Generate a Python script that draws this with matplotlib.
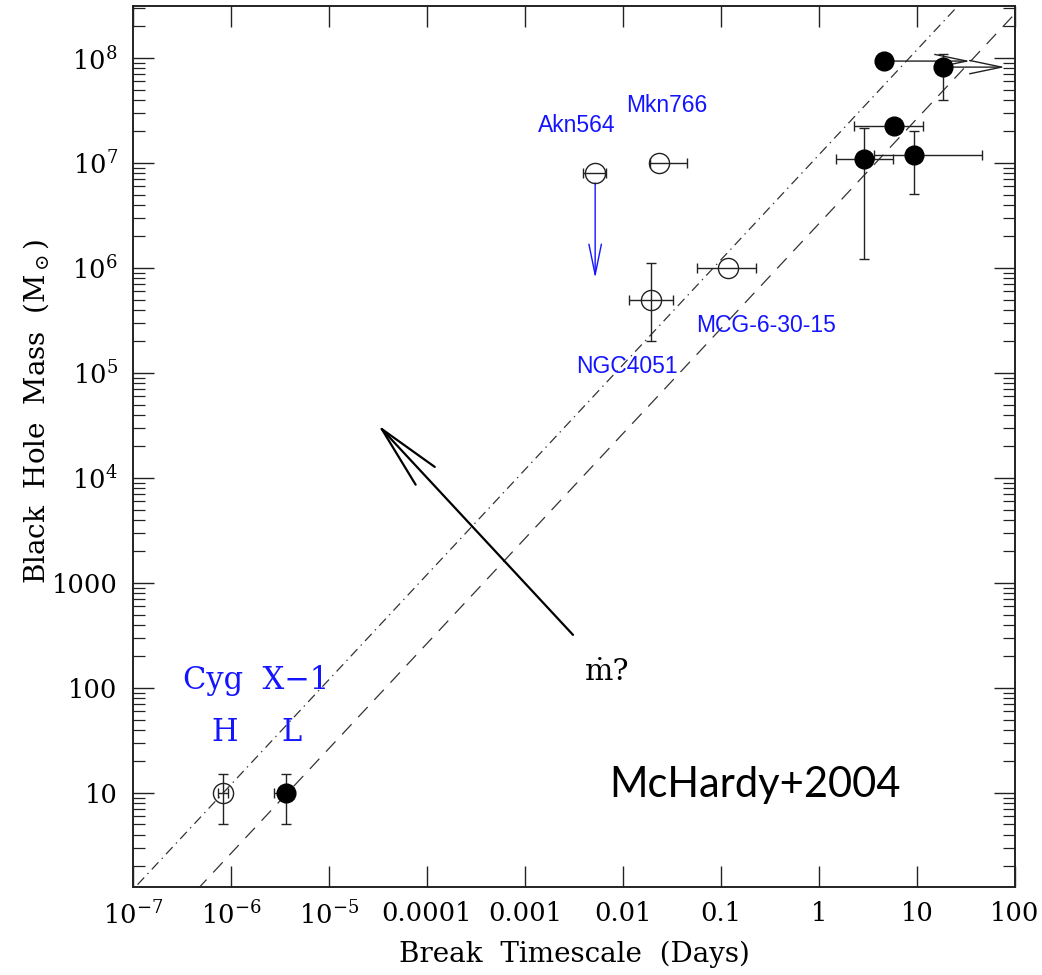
import matplotlib
matplotlib.use("Agg")
import matplotlib.pyplot as plt
import numpy as np

plt.rcParams.update({
    "font.family": "DejaVu Serif",
    "mathtext.fontset": "dejavuserif",
    "lines.scale_dashes": False,
})

nan = np.nan

# open symbols: Cyg X-1 (high state) and the narrow-line Seyferts
open_x = [8.3e-7, 5.2e-3, 0.0233, 0.0193, 0.118]
open_y = [10, 8.0e6, 1.0e7, 5.0e5, 1.0e6]
open_xlo = [7.4e-7, 3.9e-3, 0.0189, 0.0115, 0.057]
open_xhi = [9.3e-7, 6.7e-3, 0.045, 0.0324, 0.227]
open_ylo = [5, nan, nan, 2.0e5, nan]
open_yhi = [15, nan, nan, 1.12e6, nan]

# filled symbols: Cyg X-1 (low state) and the broad-line AGN
fill_x = [3.64e-6, 4.6, 18.4, 5.82, 2.88, 9.3]
fill_y = [10, 9.36e7, 8.2e7, 2.25e7, 1.09e7, 1.19e7]
fill_xlo = [2.75e-6, nan, nan, 2.28, 1.49, 3.64]
fill_xhi = [3.9e-6, nan, nan, 11.5, 5.69, 46.0]
fill_ylo = [5, nan, 3.98e7, nan, 1.22e6, 5.07e6]
fill_yhi = [15, nan, 1.09e8, nan, 2.15e7, 2.02e7]

# lower limits on break timescale (arrows to the right)
lim_x0 = [4.6, 18.4]
lim_x1 = [34.8, 79.0]
lim_y = [9.36e7, 8.2e7]

# Akn564 mass upper limit arrow
akn_arrow_x = 5.2e-3
akn_arrow_y = [6.46e6, 8.0e5]

# M = k * T relations
dashdot_norm = 1.2e7
dashed_norm = 2.65e6

# mdot arrow (tail, head)
mdot_tail = (3.09e-3, 320)
mdot_head = (3.16e-5, 3.2e4)

xtick_vals = [1e-7, 1e-6, 1e-5, 1e-4, 1e-3, 1e-2, 0.1, 1, 10, 100]
xtick_labels = [r"$10^{-7}$", r"$10^{-6}$", r"$10^{-5}$", "0.0001", "0.001",
                "0.01", "0.1", "1", "10", "100"]
ytick_vals = [10, 100, 1000, 1e4, 1e5, 1e6, 1e7, 1e8]
ytick_labels = ["10", "100", "1000", r"$10^{4}$", r"$10^{5}$", r"$10^{6}$",
                r"$10^{7}$", r"$10^{8}$"]

blue = "#1414ff"
ink = "#222222"

fig = plt.figure(figsize=(10.42, 9.75), dpi=100)
ax = fig.add_axes([0.1276, 0.0903, 0.8465, 0.9035])
ax.set_xscale("log")
ax.set_yscale("log")
ax.set_xlim(1e-7, 100)
ax.set_ylim(1.27, 3.13e8)

# relations
tline = np.array([1e-8, 1e3])
ax.plot(tline, dashdot_norm * tline, color="#333", lw=0.9,
        linestyle=(0, (7, 3.5, 1, 3.5)))
ax.plot(tline, dashed_norm * tline, color="#333", lw=0.9,
        linestyle=(0, (10, 7)))


def draw_points(xs, ys, xlo, xhi, ylo, yhi, filled):
    for x, y, a, b, c, d in zip(xs, ys, xlo, xhi, ylo, yhi):
        xerr = None if np.isnan(a) else [[x - a], [b - x]]
        yerr = None if np.isnan(c) else [[y - c], [d - y]]
        ax.errorbar([x], [y], xerr=xerr, yerr=yerr, fmt="none",
                    ecolor=ink, elinewidth=1.0, capsize=3.3, capthick=1.0,
                    zorder=3)
        if filled:
            ax.plot(x, y, "o", ms=13.5, mfc="black", mec="black", zorder=4)
        else:
            ax.plot(x, y, "o", ms=14.5, mfc="none", mec=ink, mew=1.0,
                    zorder=4)


draw_points(open_x, open_y, open_xlo, open_xhi, open_ylo, open_yhi, False)
draw_points(fill_x, fill_y, fill_xlo, fill_xhi, fill_ylo, fill_yhi, True)

for x0, x1, y in zip(lim_x0, lim_x1, lim_y):
    ax.annotate("", xy=(x1, y), xytext=(x0, y),
                arrowprops=dict(arrowstyle="->,head_length=2.3,head_width=0.48",
                                color=ink, lw=1.0, shrinkA=0, shrinkB=0,
                                mutation_scale=10), zorder=3)

ax.annotate("", xy=(akn_arrow_x, akn_arrow_y[1]), xytext=(akn_arrow_x, akn_arrow_y[0]),
            arrowprops=dict(arrowstyle="->,head_length=2.2,head_width=0.45",
                            color=blue, lw=1.0, shrinkA=0, shrinkB=0,
                            mutation_scale=10))

ax.annotate("", xy=mdot_head, xytext=mdot_tail,
            arrowprops=dict(arrowstyle="->,head_length=4.6,head_width=0.94",
                            color="black", lw=1.6, shrinkA=0, shrinkB=0,
                            mutation_scale=10))

# labels
sans = "Liberation Sans"
ax.text(3.4e-3, 1.97e7, "Akn564", color=blue, family=sans, fontsize=16.5,
        ha="center", va="baseline")
ax.text(0.0281, 3.06e7, "Mkn766", color=blue, family=sans, fontsize=16.5,
        ha="center", va="baseline")
ax.text(0.011, 1.0e5, "NGC4051", color=blue, family=sans, fontsize=16.5,
        ha="center", va="baseline")
ax.text(0.288, 2.45e5, "MCG-6-30-15", color=blue, family=sans, fontsize=16.5,
        ha="center", va="baseline")

ax.text(1.8e-6, 97, "Cyg  X\u22121", color=blue, fontsize=22,
        ha="center", va="baseline")
ax.text(8.7e-7, 31.3, "H", color=blue, fontsize=22, ha="center", va="baseline")
ax.text(4.1e-6, 31.3, "L", color=blue, fontsize=22, ha="center", va="baseline")

ax.text(6.9e-3, 119, "\u1e41?", fontsize=21.5, ha="center", va="baseline")
ax.text(0.22, 9.2, "McHardy+2004", family="Lato", fontsize=30,
        ha="center", va="baseline")

# axes cosmetics
ax.set_xticks(xtick_vals, labels=xtick_labels)
ax.set_yticks(ytick_vals, labels=ytick_labels)
ax.tick_params(which="both", direction="in", top=True, right=True,
               labelsize=18.5, color="#222")
ax.tick_params(which="major", length=15, width=1.0)
ax.tick_params(which="minor", length=8.5, width=0.9)
ax.tick_params(axis="x", pad=10)
ax.tick_params(axis="y", pad=11)
for s in ax.spines.values():
    s.set_linewidth(1.4)
    s.set_color("#222")

ax.set_xlabel("Break  Timescale  (Days)", fontsize=20, labelpad=8)
ax.set_ylabel(r"Black  Hole  Mass  (M$_\odot$)", fontsize=20)
ax.yaxis.set_label_coords(-0.093, 0.54)

fig.savefig("out.png", dpi=100)
